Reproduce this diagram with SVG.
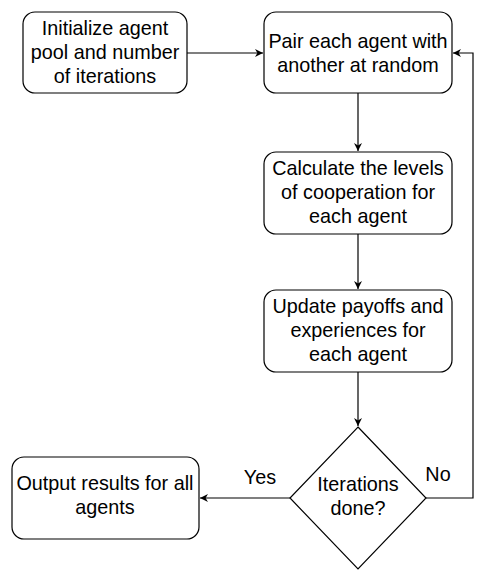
<svg xmlns="http://www.w3.org/2000/svg" width="494" height="581" viewBox="0 0 494 581">
<style>
.box{fill:#fff;stroke:#000;stroke-width:1.2}
.t{font-family:"Liberation Sans",Arial,sans-serif;font-size:19.8px;fill:#000;text-anchor:middle}
.c{fill:none;stroke:#000;stroke-width:1.2}
</style>
<defs>
<marker id="arr" viewBox="0 0 10 10" refX="10" refY="5" markerWidth="8" markerHeight="8" markerUnits="userSpaceOnUse" orient="auto">
<path d="M0,0 L10,5 L0,10 L3,5 z" fill="#000"/>
</marker>
</defs>
<rect width="494" height="581" fill="#fff"/>
<g id="connectors">
<path class="c" d="M187,53 L263,53" marker-end="url(#arr)"/>
<path class="c" d="M358,93 L358,151" marker-end="url(#arr)"/>
<path class="c" d="M358,234 L358,289" marker-end="url(#arr)"/>
<path class="c" d="M358,372 L358,426" marker-end="url(#arr)"/>
<path class="c" d="M290,498 L200,498" marker-end="url(#arr)"/>
<path class="c" d="M426,498 L473,498 L473,53 L453,53" marker-end="url(#arr)"/>
<text class="t" x="260" y="484">Yes</text>
<text class="t" x="438" y="481">No</text>
</g>
<g id="init">
<rect class="box" x="23" y="12" width="164" height="81" rx="12"/>
<text class="t" x="105" y="35">Initialize agent</text>
<text class="t" x="105" y="59">pool and number</text>
<text class="t" x="105" y="83">of iterations</text>
</g>
<g id="pair">
<rect class="box" x="264" y="12" width="188" height="81" rx="12"/>
<text class="t" x="358" y="48">Pair each agent with</text>
<text class="t" x="358" y="72">another at random</text>
</g>
<g id="calc">
<rect class="box" x="264" y="152" width="188" height="82" rx="12"/>
<text class="t" x="358" y="175">Calculate the levels</text>
<text class="t" x="358" y="199">of cooperation for</text>
<text class="t" x="358" y="223">each agent</text>
</g>
<g id="update">
<rect class="box" x="264" y="290" width="188" height="82" rx="12"/>
<text class="t" x="358" y="313">Update payoffs and</text>
<text class="t" x="358" y="337">experiences for</text>
<text class="t" x="358" y="361">each agent</text>
</g>
<g id="decision">
<path class="box" d="M358,427 L426,498 L358,569 L290,498 Z"/>
<text class="t" x="358" y="491">Iterations</text>
<text class="t" x="358" y="515">done?</text>
</g>
<g id="output">
<rect class="box" x="12" y="457" width="187" height="82" rx="12"/>
<text class="t" x="105" y="490">Output results for all</text>
<text class="t" x="105" y="514">agents</text>
</g>
</svg>
